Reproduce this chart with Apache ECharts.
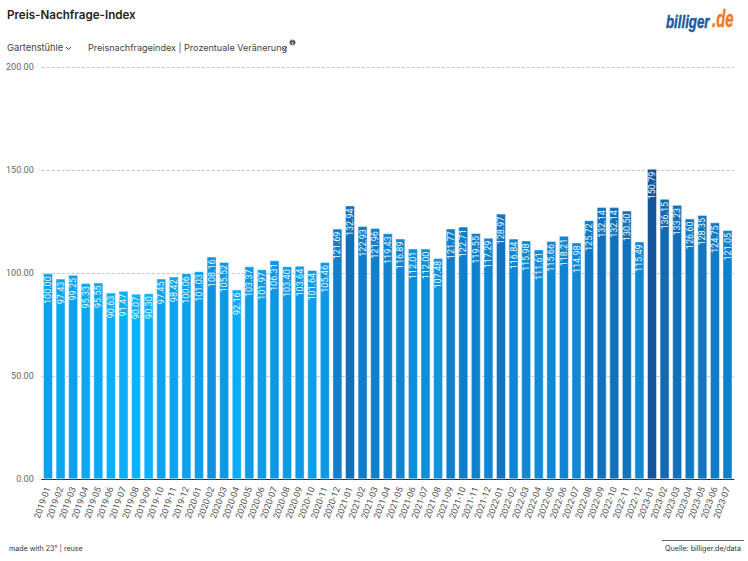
<!DOCTYPE html>
<html>
<head>
<meta charset="utf-8">
<title>Preis-Nachfrage-Index</title>
<script src="https://cdn.jsdelivr.net/npm/echarts@6/dist/echarts.min.js"></script>
<style>
html,body{margin:0;padding:0;background:#fff;}
#chart{width:748px;height:561px;}
</style>
</head>
<body>
<div id="chart"></div>
<script>
var months = [
  '2019-01','2019-02','2019-03','2019-04','2019-05','2019-06','2019-07','2019-08','2019-09','2019-10','2019-11','2019-12',
  '2020-01','2020-02','2020-03','2020-04','2020-05','2020-06','2020-07','2020-08','2020-09','2020-10','2020-11','2020-12',
  '2021-01','2021-02','2021-03','2021-04','2021-05','2021-06','2021-07','2021-08','2021-09','2021-10','2021-11','2021-12',
  '2022-01','2022-02','2022-03','2022-04','2022-05','2022-06','2022-07','2022-08','2022-09','2022-10','2022-11','2022-12',
  '2023-01','2023-02','2023-03','2023-04','2023-05','2023-06','2023-07'
];
var index2019 = [100.00,97.43,99.25,95.33,95.55,90.63,91.47,90.07,90.30,97.45,98.42,100.06];
var index2020 = [101.03,108.16,105.52,92.16,103.37,101.97,106.31,103.40,103.64,101.64,105.46,121.69];
var index2021 = [132.94,122.93,121.96,119.43,116.89,112.01,112.00,107.48,121.77,122.71,119.55,117.29];
var index2022 = [128.97,116.84,115.98,111.61,115.66,118.21,114.98,125.72,132.14,132.14,130.50,115.49];
var index2023 = [150.79,136.15,133.23,126.60,128.35,124.75,121.05];
var values = index2019.concat(index2020, index2021, index2022, index2023);

var FONT = 'Inter, "Noto Sans", sans-serif';
var NUM_FONT = 'Roboto, sans-serif';
var chart = echarts.init(document.getElementById('chart'), null, {renderer: 'svg'});

function chevron(x, y) {
  return {type: 'polyline', silent: true,
    shape: {points: [[x, y], [x + 2.5, y + 2.5], [x + 5, y]]},
    style: {stroke: '#444', lineWidth: 1, fill: null}};
}

chart.setOption({
  animation: false,
  backgroundColor: '#fff',
  grid: {left: 41.7, right: 14.2, top: 67.3, bottom: 81.7, containLabel: false},
  xAxis: {
    type: 'category',
    data: months,
    axisTick: {show: false},
    axisLine: {lineStyle: {color: '#1d2b3a', width: 1}},
    axisLabel: {rotate: 70, interval: 0, fontSize: 9, color: '#555', fontFamily: NUM_FONT, margin: 8}
  },
  yAxis: {
    type: 'value',
    min: 0,
    max: 200,
    interval: 50,
    axisLine: {show: false},
    axisTick: {show: false},
    axisLabel: {
      fontSize: 9, color: '#666', fontFamily: NUM_FONT, margin: 8,
      formatter: function (v) { return v.toFixed(2); }
    },
    splitLine: {lineStyle: {color: '#c4c4c4', type: [3, 2], width: 1}}
  },
  visualMap: {
    show: false,
    min: 90,
    max: 150.79,
    dimension: 1,
    inRange: {color: ['#0bb1fb', '#0f8fdc', '#1273bd', '#14549a']}
  },
  series: [{
    type: 'bar',
    data: values,
    barWidth: 10,
    itemStyle: {borderColor: 'rgba(255,255,255,0.45)', borderWidth: 1},
    label: {
      show: true,
      position: 'insideTop',
      rotate: 90,
      align: 'right',
      verticalAlign: 'middle',
      distance: 3,
      color: '#eef8ff',
      fontSize: 9,
      fontFamily: NUM_FONT,
      textBorderWidth: 0,
      textBorderColor: 'transparent',
      formatter: function (p) { return p.value.toFixed(2); }
    }
  }],
  graphic: [
    {type: 'text', silent: true, left: 7, top: 9, style: {text: 'Preis-Nachfrage-Index', font: '600 11.6px ' + FONT, fill: '#222'}},
    {type: 'text', silent: true, left: 7, top: 43, style: {text: 'Gartenstühle', font: '9.3px ' + FONT, fill: '#444'}},
    chevron(66, 47),
    {type: 'text', silent: true, left: 88, top: 43, style: {text: 'Preisnachfrageindex | Prozentuale Veränerung', font: '9.05px ' + FONT, fill: '#444'}},
    chevron(282, 47),
    {type: 'circle', silent: true, shape: {cx: 292.5, cy: 42.5, r: 3}, style: {fill: '#555'}},
    {type: 'text', silent: true, x: 292.5, y: 42.5, style: {text: 'i', font: 'bold 5px ' + FONT, fill: '#fff', align: 'center', verticalAlign: 'middle'}},
    {type: 'text', silent: true, x: 666, y: 31, scaleX: 0.7, style: {
      text: 'billiger', font: 'italic bold 19px "Liberation Sans"', fill: '#1c5aa0', stroke: '#1c5aa0', lineWidth: 0.5, verticalAlign: 'bottom'
    }},
    {type: 'text', silent: true, x: 712, y: 31, scaleX: 0.62, style: {
      text: '.de', font: 'italic bold 24px "Liberation Sans"', fill: '#f07c22', stroke: '#f07c22', lineWidth: 0.5, verticalAlign: 'bottom'
    }},
    {type: 'text', silent: true, left: 9, top: 545, style: {text: 'made with 23° | reuse', font: '7.1px ' + FONT, fill: '#333'}},
    {type: 'line', silent: true, shape: {x1: 662, y1: 540.5, x2: 744, y2: 540.5}, style: {stroke: '#666', lineWidth: 1}},
    {type: 'text', silent: true, left: 665, top: 545, style: {text: 'Quelle: billiger.de/data', font: '7.2px ' + FONT, fill: '#333'}}
  ]
});
</script>
</body>
</html>
